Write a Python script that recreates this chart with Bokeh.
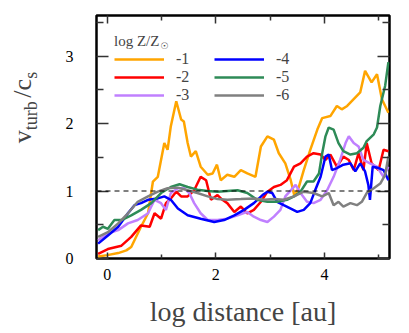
from bokeh.plotting import figure
from bokeh.models import (Range1d, LinearAxis, FixedTicker, Span, Legend,
                          LegendItem, Label)
from bokeh.embed import file_html
from bokeh.resources import INLINE

# ---- data: log Z/Zsun = -1 ... -6 ----
x_m1 = [-0.17, 0.0, 0.2, 0.35, 0.44, 0.62, 0.75, 0.84, 0.93, 1.05, 1.11, 1.17, 1.27, 1.36, 1.41,
        1.48, 1.54, 1.63, 1.72, 1.85, 1.94, 2.02, 2.09, 2.21, 2.34, 2.46, 2.58, 2.73, 2.83,
        2.95, 3.07, 3.16, 3.28, 3.38, 3.45, 3.53, 3.62, 3.74, 3.87, 3.96, 4.11, 4.23, 4.32,
        4.42, 4.54, 4.66, 4.75, 4.87, 4.97, 5.06, 5.18]
y_m1 = [0.03, 0.05, 0.08, 0.12, 0.17, 0.47, 0.67, 1.14, 1.21, 1.71, 1.61, 1.96, 2.33, 2.06, 2.03,
        1.71, 1.51, 1.59, 1.36, 1.24, 1.26, 1.39, 1.16, 1.24, 1.21, 1.31, 1.26, 1.21, 1.66,
        1.81, 1.76, 1.56, 1.41, 1.16, 0.92, 1.06, 1.31, 1.61, 1.91, 2.08, 2.11, 2.26, 2.21,
        2.26, 2.36, 2.46, 2.78, 2.61, 2.73, 2.36, 2.16]

x_m2 = [-0.17, 0.01, 0.26, 0.44, 0.62, 0.78, 0.87, 0.99, 1.08, 1.17, 1.27, 1.36, 1.48, 1.60,
        1.72, 1.82, 1.91, 2.03, 2.12, 2.21, 2.34, 2.46, 2.58, 2.70, 2.83, 2.95, 3.07, 3.19,
        3.31, 3.44, 3.56, 3.68, 3.80, 3.93, 4.02, 4.11, 4.23, 4.35, 4.45, 4.54, 4.63, 4.72,
        4.78, 4.87, 5.00, 5.09, 5.18]
y_m2 = [0.07, 0.14, 0.19, 0.32, 0.49, 0.47, 0.67, 0.59, 0.82, 0.89, 0.99, 0.92, 0.92, 1.01,
        1.21, 1.16, 0.87, 0.94, 0.87, 0.82, 0.69, 0.77, 0.67, 0.72, 0.84, 0.99, 1.06, 1.09,
        1.16, 1.36, 1.41, 1.51, 1.56, 1.54, 1.46, 1.54, 1.36, 1.51, 1.46, 1.31, 1.56, 1.31,
        1.71, 1.41, 1.31, 1.61, 1.59]

x_m3 = [-0.17, 0.01, 0.20, 0.38, 0.56, 0.75, 0.87, 0.99, 1.08, 1.17, 1.30, 1.42, 1.51, 1.60,
        1.72, 1.85, 2.03, 2.21, 2.40, 2.58, 2.70, 2.83, 2.95, 3.07, 3.19, 3.28, 3.38, 3.47,
        3.56, 3.68, 3.80, 3.93, 4.05, 4.17, 4.29, 4.39, 4.45, 4.54, 4.63, 4.72, 4.84, 4.97,
        5.09, 5.18]
y_m3 = [0.27, 0.37, 0.42, 0.52, 0.57, 0.67, 0.87, 0.82, 0.72, 0.97, 1.04, 1.04, 0.97, 0.82,
        0.67, 0.57, 0.57, 0.59, 0.64, 0.69, 0.62, 0.57, 0.54, 0.62, 0.72, 0.92, 1.01, 1.09,
        0.97, 0.84, 0.82, 0.87, 1.01, 1.21, 1.46, 1.71, 1.81, 1.71, 1.66, 1.46, 1.41, 1.36,
        1.21, 1.36]

x_m4 = [-0.17, 0.01, 0.20, 0.38, 0.50, 0.62, 0.75, 0.93, 1.05, 1.17, 1.30, 1.48, 1.72, 1.97,
        2.15, 2.34, 2.52, 2.70, 2.86, 2.95, 3.04, 3.13, 3.25, 3.38, 3.50, 3.62, 3.74, 3.83,
        3.93, 4.02, 4.08, 4.14, 4.23, 4.35, 4.48, 4.57, 4.66, 4.75, 4.81, 4.84, 4.89, 5.00,
        5.09, 5.18]
y_m4 = [0.22, 0.34, 0.47, 0.67, 0.79, 0.82, 0.87, 0.89, 0.92, 0.87, 0.74, 0.64, 0.59, 0.54,
        0.57, 0.64, 0.72, 0.82, 0.94, 0.99, 0.97, 0.84, 0.79, 0.74, 0.69, 0.72, 0.82, 1.01,
        1.21, 1.51, 1.54, 1.31, 1.34, 1.39, 1.41, 1.29, 1.41, 1.29, 1.09, 0.87, 1.36, 1.34,
        1.31, 1.16]

x_m5 = [-0.17, -0.08, 0.01, 0.13, 0.26, 0.44, 0.62, 0.81, 0.99, 1.17, 1.33, 1.48, 1.66, 1.85,
        2.03, 2.21, 2.40, 2.58, 2.76, 2.95, 3.13, 3.31, 3.44, 3.56, 3.68, 3.80, 3.90, 3.96,
        4.02, 4.08, 4.17, 4.26, 4.35, 4.48, 4.60, 4.72, 4.78, 4.91, 4.97, 5.03, 5.12, 5.18]
y_m5 = [0.42, 0.47, 0.44, 0.57, 0.57, 0.64, 0.72, 0.82, 0.97, 1.06, 1.10, 1.06, 1.02, 1.00,
        0.99, 1.00, 1.01, 0.97, 0.87, 0.84, 0.84, 0.87, 0.92, 0.99, 1.14, 1.14, 1.26, 1.56,
        1.81, 1.94, 1.91, 1.71, 1.59, 1.54, 1.56, 1.64, 1.74, 1.84, 1.94, 2.26, 2.56, 2.91]

x_m6 = [-0.17, 0.01, 0.20, 0.38, 0.56, 0.75, 0.93, 1.11, 1.30, 1.48, 1.66, 1.85, 2.03, 2.21,
        2.46, 2.70, 2.89, 3.07, 3.25, 3.44, 3.62, 3.80, 3.96, 4.08, 4.17, 4.26, 4.35, 4.48,
        4.60, 4.69, 4.78, 4.91, 5.03, 5.12, 5.18]
y_m6 = [0.32, 0.39, 0.52, 0.67, 0.84, 0.92, 0.99, 1.04, 1.05, 1.01, 0.97, 0.92, 0.88, 0.87,
        0.88, 0.89, 0.87, 0.88, 0.87, 0.92, 0.99, 0.97, 0.92, 0.97, 0.79, 0.84, 0.77, 0.82,
        0.79, 0.84, 0.97, 1.04, 1.11, 1.24, 1.51]

labels = ["-1", "-2", "-3", "-4", "-5", "-6"]
colors = ["#FFA500", "#FF0000", "#C080FF", "#0000FF", "#2E8B57", "#808080"]
xs = [x_m1, x_m2, x_m3, x_m4, x_m5, x_m6]
ys = [y_m1, y_m2, y_m3, y_m4, y_m5, y_m6]

x_ticks = [0, 2, 4]
x_minor = [1, 3, 5]
y_ticks = [0, 1, 2, 3]
y_minor = [0.5, 1.5, 2.5, 3.5]

FONT = "Liberation Serif"
NB = "\u00a0"
# y-axis title  v_turb / c_s : main-size part and subscript part, aligned with no-break spaces
ylabel_main = NB * 9 + "v" + NB * 5 + "/c" + NB
ylabel_sub = NB * 16 + "turb" + NB * 5 + "s"

p = figure(width=401, height=329, output_backend="svg", toolbar_location=None,
           x_range=Range1d(-0.2, 5.2), y_range=Range1d(0, 3.6),
           min_border_left=96, min_border_right=12, min_border_top=15,
           min_border_bottom=71)
p.grid.visible = False
p.outline_line_color = "black"
p.outline_line_width = 2.5
p.background_fill_color = "white"
p.border_fill_color = "white"

def style_axis(ax, ticks, minor, maj_len, min_len, show_labels):
    ax.ticker = FixedTicker(ticks=ticks, minor_ticks=minor)
    ax.axis_line_color = None
    ax.major_tick_in = maj_len
    ax.major_tick_out = 0
    ax.minor_tick_in = min_len
    ax.minor_tick_out = 0
    ax.major_tick_line_width = 1.5
    ax.minor_tick_line_width = 1.5
    ax.major_tick_line_color = "#333333"
    ax.minor_tick_line_color = "#333333"
    ax.major_label_text_font = FONT
    ax.major_label_text_font_size = "16px"
    ax.major_label_text_color = "black"
    if not show_labels:
        ax.major_label_overrides = {t: "" for t in ticks}
        ax.major_label_standoff = 0

xa = p.xaxis[0]
style_axis(xa, x_ticks, x_minor, 6, 4, True)
xa.major_label_standoff = 10
xa.axis_label = "log distance [au]"
xa.axis_label_text_font = FONT
xa.axis_label_text_font_size = "28px"
xa.axis_label_text_font_style = "normal"
xa.axis_label_standoff = 13

ya = p.yaxis[0]
style_axis(ya, y_ticks, y_minor, 12, 7, True)
ya.major_label_standoff = 23
ya.axis_label = ylabel_sub
ya.axis_label_text_font = FONT
ya.axis_label_text_font_size = "18px"
ya.axis_label_text_font_style = "normal"
ya.axis_label_standoff = 22

# outer axis carrying only the full-size part of the y title
ya2 = LinearAxis(ticker=FixedTicker(ticks=[]), axis_line_color=None,
                 major_tick_in=0, major_tick_out=0, minor_tick_in=0, minor_tick_out=0,
                 axis_label=ylabel_main, axis_label_text_font=FONT,
                 axis_label_text_font_size="26px", axis_label_text_font_style="normal",
                 axis_label_standoff=-19)
p.add_layout(ya2, "left")

ra = LinearAxis()
style_axis(ra, y_ticks, y_minor, 12, 7, False)
p.add_layout(ra, "right")
ta = LinearAxis()
style_axis(ta, x_ticks, x_minor, 8, 5, False)
p.add_layout(ta, "above")

p.add_layout(Span(location=1, dimension="width", line_color="black",
                  line_width=1, line_dash="5 4"))

renderers = []
for xv, yv, c in zip(xs, ys, colors):
    r = p.line(xv, yv, line_color=c, line_width=2.5)
    renderers.append(r)

items = [LegendItem(label=l, renderers=[r]) for l, r in zip(labels, renderers)]
legend = Legend(items=items, location="top_left", ncols=2,
                title="log Z/Z", title_text_font=FONT, title_text_font_size="15px",
                title_text_font_style="normal", title_standoff=0,
                label_text_font=FONT, label_text_font_size="16px",
                glyph_width=50, glyph_height=16, label_height=16, label_width=38,
                label_standoff=12, spacing=0, padding=0, margin=18,
                border_line_color=None, background_fill_alpha=0)
p.add_layout(legend)

# sun symbol subscript in the legend title
p.add_layout(Label(x=64, y=213, x_units="screen", y_units="screen", text="\u2609",
                   text_font="DejaVu Sans", text_font_size="9px", text_baseline="alphabetic"))

open("out.html", "w").write(file_html(p, INLINE))
